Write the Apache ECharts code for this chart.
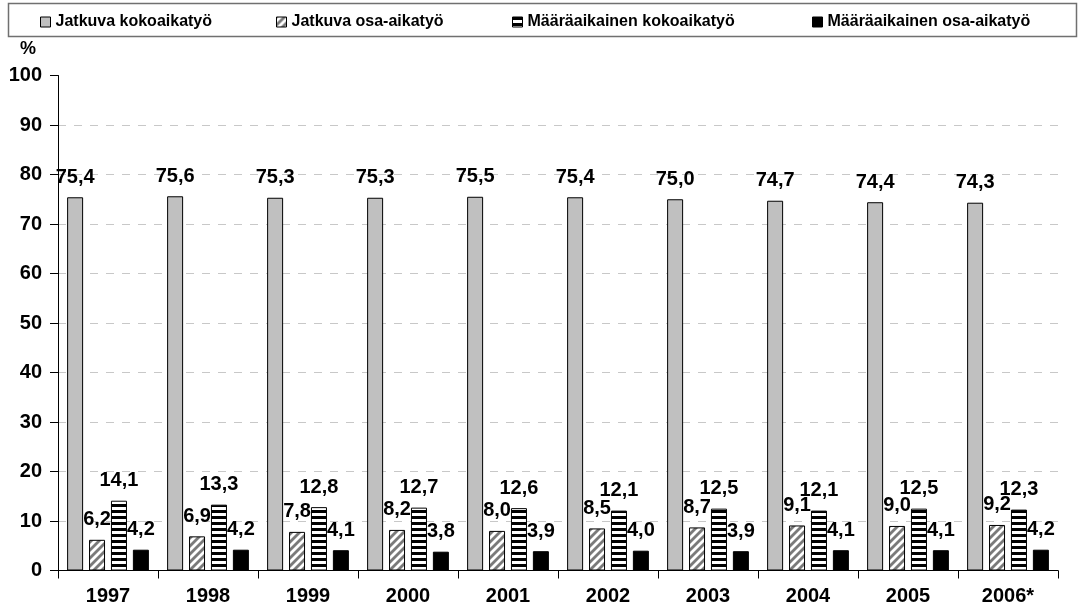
<!DOCTYPE html>
<html>
<head>
<meta charset="utf-8">
<script src="https://cdn.jsdelivr.net/npm/echarts@6/dist/echarts.min.js"></script>
<style>
html,body{margin:0;padding:0;background:#fff;}
#chart{width:1083px;height:613px;}
</style>
</head>
<body>
<div id="chart"></div>
<script>
const categories = ['1997','1998','1999','2000','2001','2002','2003','2004','2005','2006*'];
const seriesNames = ['Jatkuva kokoaikatyö','Jatkuva osa-aikatyö','Määräaikainen kokoaikatyö','Määräaikainen osa-aikatyö'];
const jatkuvaKoko = [75.4,75.6,75.3,75.3,75.5,75.4,75.0,74.7,74.4,74.3];
const jatkuvaOsa = [6.2,6.9,7.8,8.2,8.0,8.5,8.7,9.1,9.0,9.2];
const maaraKoko = [14.1,13.3,12.8,12.7,12.6,12.1,12.5,12.1,12.5,12.3];
const maaraOsa = [4.2,4.2,4.1,3.8,3.9,4.0,3.9,4.1,4.1,4.2];
const yTicks = {min:0, max:100, interval:10};

function hatchPattern(){
  const c = document.createElement('canvas');
  c.width = 8; c.height = 8;
  const g = c.getContext('2d');
  g.fillStyle = '#fff'; g.fillRect(0,0,8,8);
  g.strokeStyle = '#7a7a7a'; g.lineWidth = 2.8;
  for (let k=-1;k<=1;k++){
    g.beginPath();
    g.moveTo(k*8-1, 9); g.lineTo(k*8+9, -1);
    g.stroke();
  }
  return {image:c, repeat:'repeat'};
}
function stripePattern(){
  const c = document.createElement('canvas');
  c.width = 4; c.height = 6;
  const g = c.getContext('2d');
  g.fillStyle = '#fff'; g.fillRect(0,0,4,6);
  g.fillStyle = '#000'; g.fillRect(0,0,4,3);
  return {image:c, repeat:'repeat'};
}

const FONT = '"Liberation Sans", Arial, sans-serif';
const fills = ['#c0c0c0', hatchPattern(), stripePattern(), '#000000'];
const datasets = [jatkuvaKoko, jatkuvaOsa, maaraKoko, maaraOsa];
const legendLefts = [40, 276, 512, 812];

const chart = echarts.init(document.getElementById('chart'), null, {renderer:'canvas'});
const option = {
  animation:false,
  backgroundColor:'#fff',
  textStyle:{fontFamily:FONT},
  graphic:[
    {type:'rect', shape:{x:8.5,y:3.5,width:1068,height:33}, style:{fill:'none', stroke:'#707070', lineWidth:1.5}, z:0},
    {type:'text', left:20, top:40, style:{text:'%', font:'bold 18px '+FONT, fill:'#000'}}
  ],
  legend: seriesNames.map((n,i)=>({
    data:[n], left:legendLefts[i], top:14, padding:0,
    itemWidth:10, itemHeight:10, itemGap:5, icon:'rect',
    itemStyle:{borderColor:'#000', borderWidth:1},
    textStyle:{fontFamily:FONT, fontWeight:'bold', fontSize:16, color:'#000'},
    selectedMode:false
  })),
  grid:{left:58, right:25, top:75.5, bottom:42.5, containLabel:false},
  xAxis:{
    type:'category', data:categories,
    axisLine:{lineStyle:{color:'#000', width:1}},
    axisTick:{show:true, length:8, lineStyle:{color:'#000'}},
    axisLabel:{color:'#000', fontWeight:'bold', fontSize:20, fontFamily:FONT, margin:16}
  },
  yAxis:{
    type:'value', min:yTicks.min, max:yTicks.max, interval:yTicks.interval,
    axisLine:{show:true, lineStyle:{color:'#000', width:1}},
    axisTick:{show:true, length:8, lineStyle:{color:'#000'}},
    axisLabel:{color:'#000', fontWeight:'bold', fontSize:20, fontFamily:FONT, margin:16},
    splitLine:{show:true, showMaxLine:false, showMinLine:false, lineStyle:{color:'#c8c8c8', type:[8,8], width:1}}
  },
  series: seriesNames.map((n,i)=>({
    name:n, type:'bar', data:datasets[i],
    barWidth:16, barGap:'37%', barCategoryGap:'18%',
    itemStyle:{color:fills[i], borderColor:'#000', borderWidth:1},
    label:{show:true, position:'top', distance:10, color:'#000', fontWeight:'bold', fontSize:20, fontFamily:FONT,
      formatter:p=>p.value.toFixed(1).replace('.',',')}
  }))
};
chart.setOption(option);
</script>
</body>
</html>
